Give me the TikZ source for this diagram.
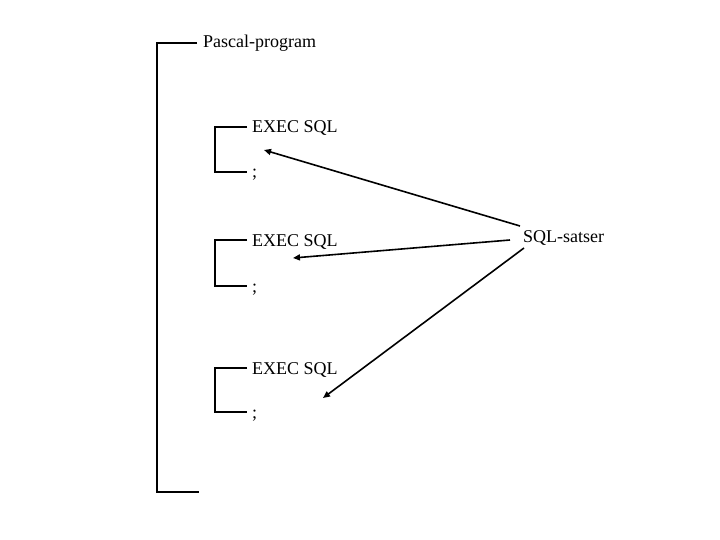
\documentclass[tikz,border=0pt]{standalone}
\usepackage{fontspec}
\setmainfont{Liberation Serif}
\usetikzlibrary{arrows.meta}
\tikzset{
  lbl/.style={inner sep=0pt, anchor=base west, font=\fontsize{18}{20}\selectfont},
  brk/.style={line width=1.3pt},
  arr/.style={line width=1.6pt, -{Triangle[length=7pt,width=6pt]}}
}
\begin{document}
\begin{tikzpicture}[x=1pt,y=-1pt]
\useasboundingbox (0,0) rectangle (720,540);
% outer bracket
\draw[brk] (197,43) -- (157,43) -- (157,492) -- (199,492);
\node[lbl] (pp) at (203,48) {Pascal-program};
% inner brackets
\foreach \i/\t/\b in {1/127/172, 2/240/286, 3/368/412}{
  \draw[brk] (247,\t) -- (215,\t) -- (215,\b) -- (247,\b);
  \node[lbl] (ex\i) at (252,\t+6) {EXEC SQL};
  \node[lbl] (sc\i) at (252,\b+6) {;};
}
\node[lbl] (sql) at (523,243) {SQL-satser};
\coordinate (s1) at (520,226);
\coordinate (s2) at (510,240);
\coordinate (s3) at (524,248);
\coordinate (e1) at (264,150);
\coordinate (e2) at (293,258);
\coordinate (e3) at (323,398);
\draw[arr] (s1) -- (e1);
\draw[arr] (s2) -- (e2);
\draw[arr] (s3) -- (e3);
\end{tikzpicture}
\end{document}
